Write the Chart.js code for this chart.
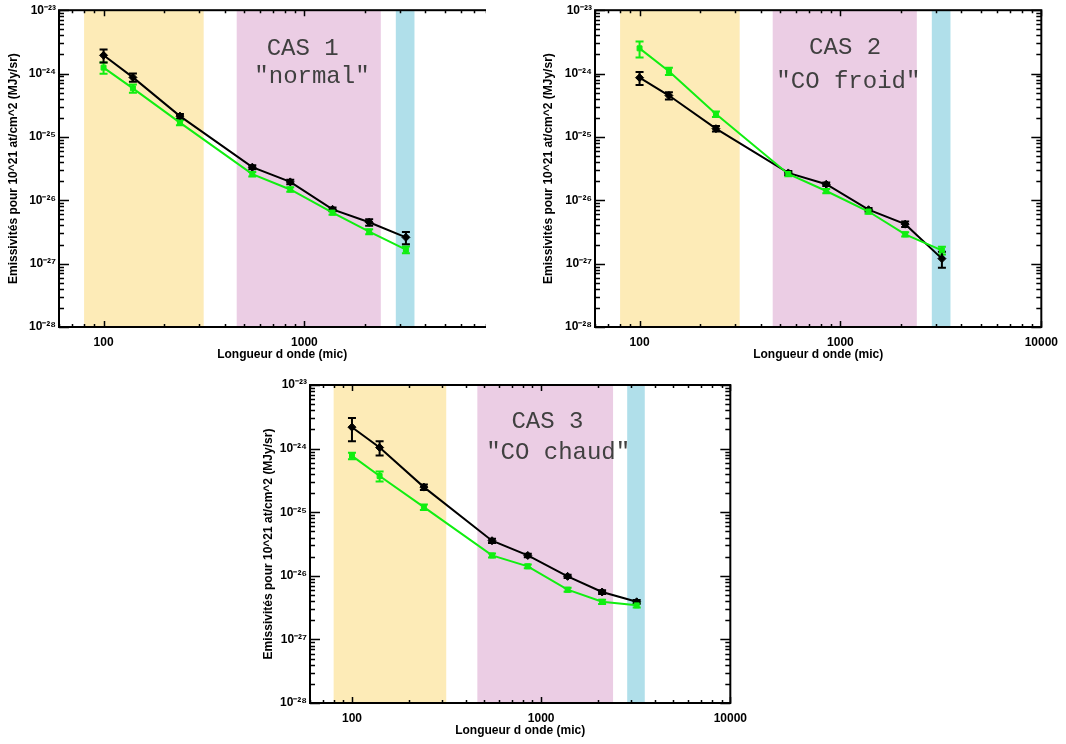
<!DOCTYPE html>
<html>
<head>
<meta charset="utf-8">
<script src="https://cdn.jsdelivr.net/npm/chart.js@4.4.1/dist/chart.umd.min.js"></script>
<style>
  html, body { margin: 0; padding: 0; background: #fff; }
  body { width: 1066px; height: 744px; position: relative; overflow: hidden; }
  .panel { position: absolute; overflow: hidden; }
  canvas { display: block; }
</style>
</head>
<body>
<div class="panel" style="left:0;top:0;width:486px;height:365px"><canvas id="cas1" width="530" height="365"></canvas></div>
<div class="panel" style="left:535px;top:0;width:531px;height:365px"><canvas id="cas2" width="531" height="365"></canvas></div>
<div class="panel" style="left:255px;top:370px;width:500px;height:371px"><canvas id="cas3" width="500" height="371"></canvas></div>
<script>
// wavelengths (mic)
const waves = [100, 140, 240, 550, 850, 1380, 2100, 3200];

// spectral bands (mic)
const yellowBand = [80, 315];
const pinkBand = [460, 2400];
const cyanBand = [2850, 3530];

// CAS 1 "normal"
const cas1Black = [1.94e-24, 8.7e-25, 2.13e-25, 3.33e-26, 1.95e-26, 7.2e-27, 4.5e-27, 2.6e-27];
const cas1BlackErr = [4.5e-25, 1.3e-25, 1.7e-26, 2.3e-27, 1.6e-27, 5e-28, 5.4e-28, 5.7e-28];
const cas1Green = [1.24e-24, 5.85e-25, 1.68e-25, 2.59e-26, 1.48e-26, 6.4e-27, 3.2e-27, 1.66e-27];
const cas1GreenErr = [2.5e-25, 8.8e-26, 1.5e-26, 2.1e-27, 1.2e-27, 5e-28, 2.9e-28, 2e-28];

// CAS 2 "CO froid"
const cas2Black = [8.6e-25, 4.5e-25, 1.35e-25, 2.7e-26, 1.79e-26, 7.1e-27, 4.2e-27, 1.2e-27];
const cas2BlackErr = [2e-25, 5.9e-26, 1.35e-26, 1.9e-27, 1.1e-27, 4.3e-28, 4.2e-28, 3.4e-28];
const cas2Green = [2.5e-24, 1.09e-24, 2.3e-25, 2.6e-26, 1.4e-26, 6.65e-27, 2.9e-27, 1.62e-27];
const cas2GreenErr = [7e-25, 1.4e-25, 2.3e-26, 2.1e-27, 1.1e-27, 5.3e-28, 2.3e-28, 2.3e-28];

// CAS 3 "CO chaud"
const cas3Black = [2.17e-24, 1.04e-24, 2.48e-25, 3.56e-26, 2.09e-26, 9.8e-27, 5.56e-27, 3.9e-27];
const cas3BlackErr = [8.7e-25, 2.6e-25, 2.5e-26, 2.8e-27, 1.3e-27, 5.9e-28, 3.9e-28, 2.7e-28];
const cas3Green = [7.7e-25, 3.7e-25, 1.2e-25, 2.09e-26, 1.41e-26, 6.05e-27, 3.9e-27, 3.43e-27];
const cas3GreenErr = [9e-26, 6.7e-26, 1.2e-26, 1.5e-27, 1e-27, 4.2e-28, 3.1e-28, 2.7e-28];

const xRange = [60, 10000];
const yRange = [1e-28, 1e-23];

const GREEN = '#11ee11';
Chart.defaults.font.family = '"Liberation Sans", Arial, sans-serif';

const isDecade = (v) => {
  const l = Math.log10(v);
  return Math.abs(l - Math.round(l)) < 1e-9;
};

const logTicks = (min, max) => {
  const out = [];
  for (let e = Math.floor(Math.log10(min)); e <= Math.ceil(Math.log10(max)); e++) {
    for (let m = 1; m <= 9; m++) {
      const v = m * Math.pow(10, e);
      if (v >= min * 0.999 && v <= max * 1.001) out.push(v);
    }
  }
  return out;
};

const SUP = { '-': '\u207B', '0': '\u2070', '1': '\u00B9', '2': '\u00B2', '3': '\u00B3', '4': '\u2074', '5': '\u2075', '6': '\u2076', '7': '\u2077', '8': '\u2078', '9': '\u2079' };
const powLabel = (v) => '10' + String(Math.round(Math.log10(v))).split('').map(c => SUP[c]).join('');

// bands + error bars, under the lines
const bandPlugin = {
  id: 'bands',
  beforeDatasetsDraw(chart) {
    const { ctx, chartArea: a, scales: { x, y } } = chart;
    ctx.save();
    [[yellowBand, '#fdebb7'], [pinkBand, '#ebcde4'], [cyanBand, '#b0dfea']].forEach(([b, c]) => {
      const x0 = x.getPixelForValue(b[0]);
      const x1 = x.getPixelForValue(b[1]);
      ctx.fillStyle = c;
      ctx.fillRect(x0, a.top, x1 - x0, a.bottom - a.top);
    });
    chart.data.datasets.forEach(ds => {
      ctx.strokeStyle = ds.borderColor;
      ctx.lineWidth = 2;
      ds.data.forEach((p, i) => {
        const e = ds.errors[i];
        const px = x.getPixelForValue(p.x);
        const yt = y.getPixelForValue(p.y + e);
        const yb = y.getPixelForValue(p.y - e);
        ctx.beginPath();
        ctx.moveTo(px, yt); ctx.lineTo(px, yb);
        ctx.moveTo(px - 4, yt); ctx.lineTo(px + 4, yt);
        ctx.moveTo(px - 4, yb); ctx.lineTo(px + 4, yb);
        ctx.stroke();
      });
    });
    ctx.restore();
  }
};

// IDL-like box with inward ticks on all four sides
const framePlugin = {
  id: 'frame',
  afterDraw(chart) {
    const { ctx, chartArea: a, scales: { x, y } } = chart;
    ctx.save();
    ctx.strokeStyle = '#000';
    ctx.lineWidth = 2;
    ctx.strokeRect(a.left, a.top, a.right - a.left, a.bottom - a.top);
    ctx.lineWidth = 1.5;
    ctx.beginPath();
    x.ticks.forEach(t => {
      const px = Math.round(x.getPixelForValue(t.value)) + 0.5;
      const len = isDecade(t.value) ? 6 : 3;
      ctx.moveTo(px, a.bottom); ctx.lineTo(px, a.bottom - len);
      ctx.moveTo(px, a.top); ctx.lineTo(px, a.top + len);
    });
    y.ticks.forEach(t => {
      const py = Math.round(y.getPixelForValue(t.value)) + 0.5;
      const len = isDecade(t.value) ? 10 : 5;
      ctx.moveTo(a.left, py); ctx.lineTo(a.left + len, py);
      ctx.moveTo(a.right, py); ctx.lineTo(a.right - len, py);
    });
    ctx.stroke();
    ctx.restore();
  }
};

// "CAS n" captions
const textPlugin = {
  id: 'casText',
  afterDatasetsDraw(chart, args, opts) {
    const { ctx, scales: { x, y } } = chart;
    ctx.save();
    ctx.font = '24px "Liberation Mono", "Courier New", monospace';
    ctx.fillStyle = '#404040';
    ctx.textAlign = 'center';
    ctx.textBaseline = 'middle';
    (opts.lines || []).forEach(l => {
      ctx.fillText(l.text, x.getPixelForValue(l.x), y.getPixelForValue(l.y));
    });
    ctx.restore();
  }
};

function makeChart(id, black, blackErr, green, greenErr, geo, lines) {
  return new Chart(document.getElementById(id), {
    type: 'line',
    data: {
      datasets: [
        {
          data: waves.map((w, i) => ({ x: w, y: green[i] })),
          errors: greenErr,
          borderColor: GREEN,
          backgroundColor: GREEN,
          borderWidth: 2,
          pointStyle: 'rect',
          pointRadius: 3.5,
          pointBorderWidth: 1,
        },
        {
          data: waves.map((w, i) => ({ x: w, y: black[i] })),
          errors: blackErr,
          borderColor: '#000',
          backgroundColor: '#000',
          borderWidth: 2,
          pointStyle: 'rectRot',
          pointRadius: 4,
          pointBorderWidth: 1,
        },
      ]
    },
    options: {
      responsive: false,
      animation: false,
      events: [],
      layout: { padding: { left: 0, top: geo.top, right: geo.right, bottom: 0 } },
      plugins: {
        legend: { display: false },
        tooltip: { enabled: false },
        casText: { lines: lines },
      },
      scales: {
        x: {
          type: 'logarithmic',
          min: xRange[0],
          max: xRange[1],
          afterFit: (s) => { s.height = 38; },
          afterBuildTicks: (s) => { s.ticks = logTicks(xRange[0], xRange[1]).map(v => ({ value: v })); },
          grid: { display: false, drawTicks: false },
          border: { display: false },
          ticks: {
            autoSkip: false,
            maxRotation: 0,
            padding: 8,
            color: '#000',
            font: { size: 12, weight: 'bold' },
            callback: (v) => isDecade(v) ? String(Math.round(v)) : '',
          },
          title: {
            display: true,
            text: 'Longueur d onde (mic)',
            color: '#000',
            font: { size: 12, weight: 'bold' },
            padding: { top: 0, bottom: 3 },
          },
        },
        y: {
          type: 'logarithmic',
          min: yRange[0],
          max: yRange[1],
          afterFit: (s) => { s.width = geo.yw; },
          afterBuildTicks: (s) => { s.ticks = logTicks(yRange[0], yRange[1]).map(v => ({ value: v })); },
          grid: { display: false, drawTicks: false },
          border: { display: false },
          ticks: {
            autoSkip: false,
            padding: 3,
            color: '#000',
            font: { size: 12, weight: 'bold' },
            callback: (v) => isDecade(v) ? powLabel(v) : '',
          },
          title: {
            display: true,
            text: 'Emissivités pour 10^21 at/cm^2 (MJy/sr)',
            color: '#000',
            font: { size: 12, weight: 'bold' },
            padding: { top: 6, bottom: 0 },
          },
        },
      },
    },
    plugins: [bandPlugin, framePlugin, textPlugin],
  });
}

makeChart('cas1', cas1Black, cas1BlackErr, cas1Green, cas1GreenErr,
  { top: 7, right: 20, yw: 59 },
  [{ text: 'CAS 1', x: 980, y: 2.5e-24 }, { text: '"normal"', x: 1090, y: 9e-25 }]);

makeChart('cas2', cas2Black, cas2BlackErr, cas2Green, cas2GreenErr,
  { top: 8, right: 23, yw: 60 },
  [{ text: 'CAS 2', x: 1055, y: 2.6e-24 }, { text: '"CO froid"', x: 1095, y: 7.4e-25 }]);

makeChart('cas3', cas3Black, cas3BlackErr, cas3Green, cas3GreenErr,
  { top: 15, right: 23, yw: 55 },
  [{ text: 'CAS 3', x: 1080, y: 2.65e-24 }, { text: '"CO chaud"', x: 1230, y: 8.6e-25 }]);
</script>
</body>
</html>
